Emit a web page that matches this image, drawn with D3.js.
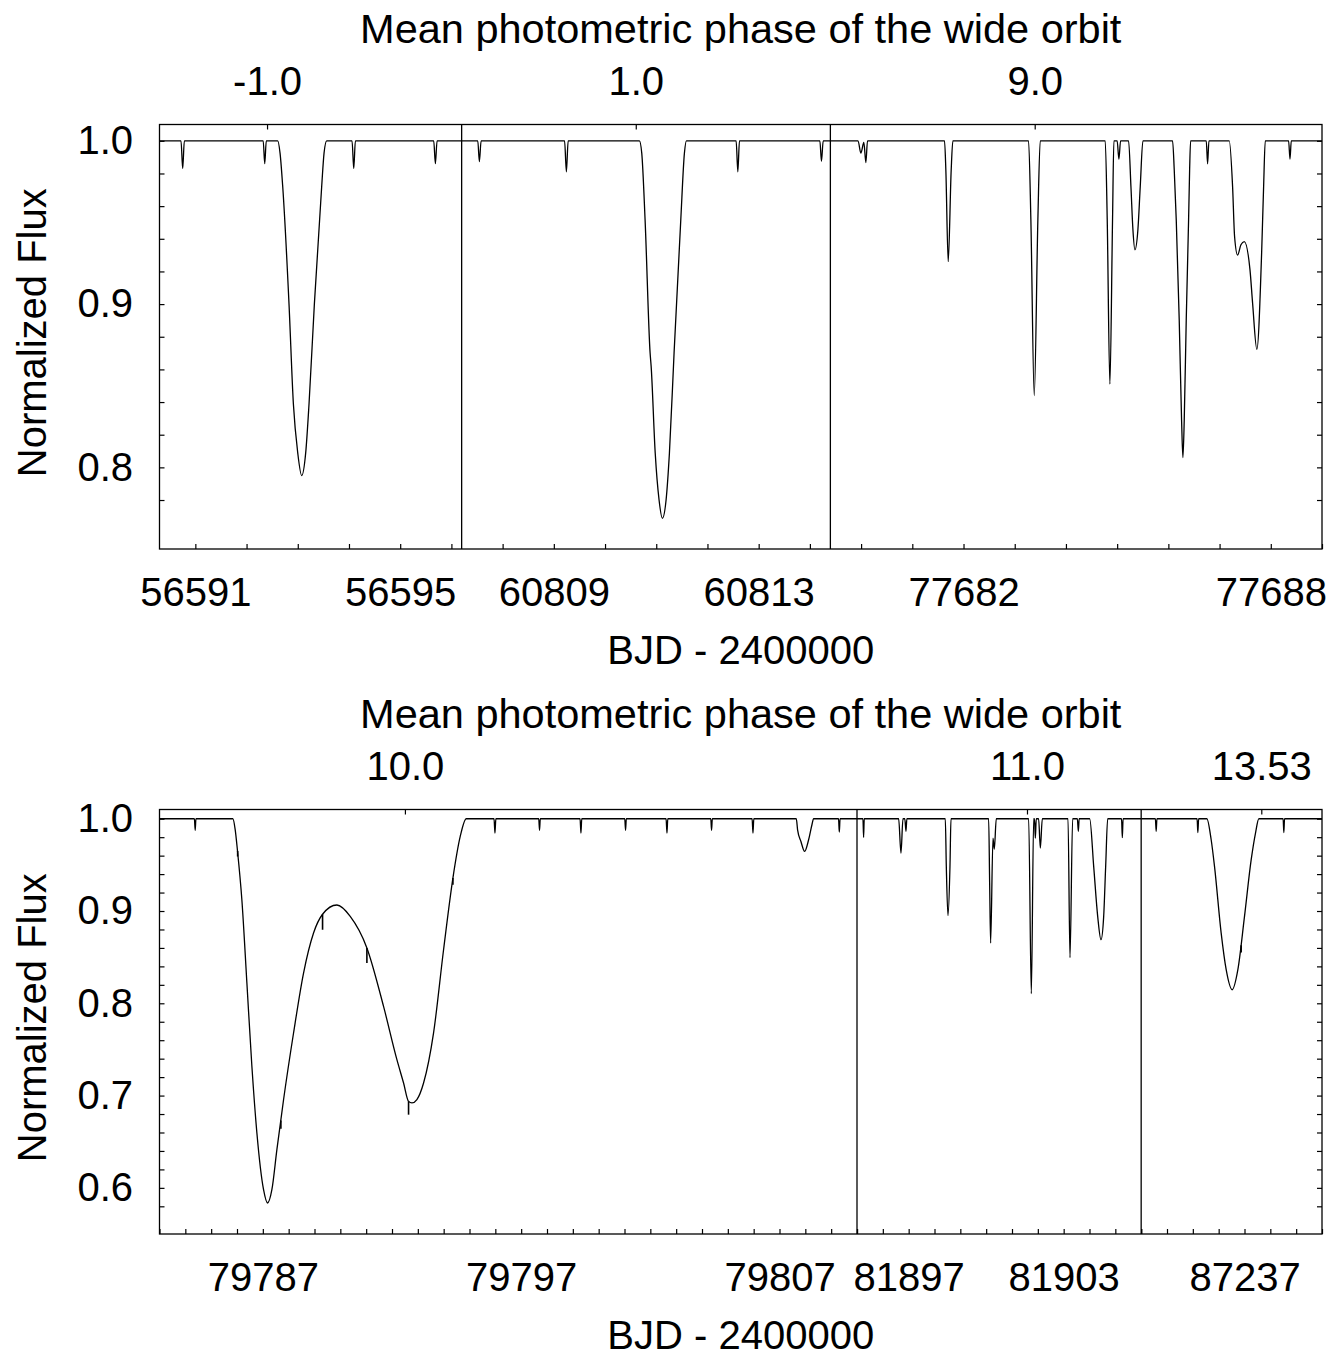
<!DOCTYPE html>
<html>
<head>
<meta charset="utf-8">
<script src="https://cdn.jsdelivr.net/npm/d3@7"></script>
<style>
  body { margin: 0; background: #fff; }
  svg text { font-family: "Liberation Sans", Arial, Helvetica, sans-serif; fill: #000; }
</style>
</head>
<body>
<svg id="chart" width="1343" height="1359"></svg>
<script>
// ---- upper panel: three time windows (BJD - 2400000) ----
var topDomains = [[56590.3, 56596.2], [60807.2, 60814.4], [77679.4, 77689.0]];
var topTickLabels = [[56591, 56595], [60809, 60813], [77682, 77688]];
var topPhaseAt = [56592.4, 60810.6, 77683.39];
var topPhaseLabels = ["-1.0", "1.0", "9.0"];
var topYLabels = [0.8, 0.9, 1.0];

var topSeg1 = [
  [56590.30, 1], [56590.72, 1], [56590.753, 0.983], [56590.785, 1],
  [56592.325, 1], [56592.355, 0.986], [56592.385, 1],
  [56592.608, 1], [56592.654, 0.9925], [56592.706, 0.972], [56592.829, 0.90], [56592.914, 0.839],
  [56592.999, 0.809], [56593.077, 0.795], [56593.155, 0.809], [56593.220, 0.839], [56593.324, 0.90],
  [56593.467, 0.972], [56593.513, 0.9925], [56593.565, 1],
  [56594.06, 1], [56594.093, 0.983], [56594.125, 1],
  [56595.655, 1], [56595.687, 0.986], [56595.72, 1],
  [56596.2, 1]
];
var topSeg2 = [
  [60807.2, 1], [60807.515, 1], [60807.546, 0.9873], [60807.58, 1],
  [60809.21, 1], [60809.245, 0.981], [60809.28, 1],
  [60810.671, 1], [60810.717, 0.9925], [60810.782, 0.9516], [60810.88, 0.870], [60810.90, 0.862],
  [60810.98, 0.8086], [60811.055, 0.78], [60811.12, 0.7688], [60811.192, 0.78], [60811.257, 0.8086],
  [60811.348, 0.870], [60811.479, 0.9516], [60811.55, 0.9925], [60811.589, 1],
  [60812.56, 1], [60812.593, 0.981], [60812.625, 1],
  [60814.195, 1], [60814.226, 0.9875], [60814.26, 1],
  [60814.4, 1]
];
var topSeg3 = [
  [77679.4, 1], [77679.94, 1], [77679.995, 0.9925], [77680.054, 0.999], [77680.093, 0.9867], [77680.125, 1],
  [77681.629, 1], [77681.655, 0.982], [77681.701, 0.926], [77681.759, 0.982], [77681.792, 1],
  [77683.27, 1], [77683.315, 0.952], [77683.381, 0.844], [77683.452, 0.952], [77683.498, 1],
  [77684.767, 1], [77684.806, 0.952], [77684.858, 0.851], [77684.910, 0.952], [77684.936, 1],
  [77685.0, 1], [77685.034, 0.9888], [77685.067, 1],
  [77685.223, 1], [77685.269, 0.972], [77685.308, 0.9455], [77685.347, 0.9332], [77685.405, 0.9455],
  [77685.451, 0.972], [77685.503, 1],
  [77686.082, 1], [77686.115, 0.982], [77686.154, 0.9516], [77686.212, 0.8903], [77686.258, 0.829],
  [77686.284, 0.806], [77686.310, 0.829], [77686.349, 0.8903], [77686.395, 0.9516], [77686.415, 0.982],
  [77686.434, 1],
  [77686.740, 1], [77686.766, 0.9859], [77686.792, 1],
  [77687.189, 1], [77687.254, 0.972], [77687.293, 0.9414], [77687.352, 0.930], [77687.417, 0.9363],
  [77687.482, 0.9383], [77687.594, 0.921], [77687.645, 0.9005], [77687.728, 0.8723], [77687.821, 0.9312],
  [77687.860, 0.972], [77687.892, 1],
  [77688.348, 1], [77688.375, 0.9888], [77688.400, 1],
  [77689.0, 1]
];

// ---- lower panel ----
var botDomains = [[79783, 79810], [81895, 81906], [87233, 87240]];
var botTickLabels = [[79787, 79797, 79807], [81897, 81903], [87237]];
var botPhaseAt = [79792.5, 81901.58, 87237.65];
var botPhaseLabels = ["10.0", "11.0", "13.53"];
var botYLabels = [0.6, 0.7, 0.8, 0.9, 1.0];

var botSeg1 = [
  [79783, 1], [79784.35, 1], [79784.382, 0.9873], [79784.41, 1],
  [79785.84, 1], [79785.931, 0.988], [79786.021, 0.9646], [79786.189, 0.912], [79786.383, 0.822],
  [79786.576, 0.7317], [79786.770, 0.6595], [79787.028, 0.598], [79787.182, 0.5836], [79787.350, 0.598],
  [79787.544, 0.6414], [79787.802, 0.6955], [79788.189, 0.7678], [79788.576, 0.8328],
  [79788.963, 0.8762], [79789.312, 0.8965], [79789.867, 0.9065], [79790.383, 0.8942], [79791.028, 0.86],
  [79791.673, 0.7966], [79792.19, 0.7389], [79792.448, 0.7136], [79792.641, 0.6937], [79792.77, 0.692],
  [79792.964, 0.6957], [79793.222, 0.7136], [79793.609, 0.768], [79793.996, 0.858], [79794.358, 0.9357],
  [79794.641, 0.9808], [79794.874, 1],
  [79795.95, 1], [79795.985, 0.9845], [79796.02, 1],
  [79797.68, 1], [79797.711, 0.9873], [79797.74, 1],
  [79799.28, 1], [79799.314, 0.9845], [79799.345, 1],
  [79801.01, 1], [79801.041, 0.9873], [79801.07, 1],
  [79802.61, 1], [79802.644, 0.9845], [79802.675, 1],
  [79804.34, 1], [79804.370, 0.9873], [79804.40, 1],
  [79805.94, 1], [79805.973, 0.9845], [79806.005, 1],
  [79807.65, 1], [79807.70, 0.988], [79807.83, 0.9754], [79807.972, 0.9646], [79808.127, 0.9772],
  [79808.256, 0.9935], [79808.321, 1],
  [79809.285, 1], [79809.315, 0.9855], [79809.345, 1],
  [79810, 1]
];
// short inner-binary eclipses on top of the wide eclipse: [time, flux on curve, flux at bottom]
var botSpikes1 = [
  [79786.025, 0.965, 0.959], [79787.699, 0.673, 0.664], [79789.312, 0.8965, 0.8797],
  [79791.028, 0.86, 0.8437], [79792.641, 0.6937, 0.6793], [79794.358, 0.9357, 0.9285]
];
var botSeg2 = [
  [81895, 1], [81895.23, 1], [81895.256, 0.9798], [81895.28, 1],
  [81896.612, 1], [81896.702, 0.9628], [81896.78, 1],
  [81896.85, 1], [81896.896, 0.9863], [81896.93, 1],
  [81898.418, 1], [81898.457, 0.9484], [81898.522, 0.8949], [81898.599, 0.9484], [81898.638, 1],
  [81900.096, 1], [81900.135, 0.930], [81900.173, 0.8653], [81900.264, 0.979], [81900.315, 0.967],
  [81900.392, 1],
  [81901.645, 1], [81901.748, 0.8104], [81901.839, 1],
  [81901.87, 1], [81901.903, 0.979], [81901.94, 1],
  [81902.03, 1], [81902.097, 0.9682], [81902.174, 1],
  [81903.168, 1], [81903.245, 0.8494], [81903.348, 1],
  [81903.53, 1], [81903.568, 0.9863], [81903.60, 1],
  [81904.007, 1], [81904.162, 0.9484], [81904.317, 0.8942], [81904.445, 0.8689], [81904.549, 0.8942],
  [81904.626, 0.9484], [81904.704, 1],
  [81905.24, 1], [81905.271, 0.9795], [81905.30, 1],
  [81906, 1]
];
var botSeg3 = [
  [87233, 1], [87233.55, 1], [87233.581, 0.9863], [87233.61, 1],
  [87235.165, 1], [87235.194, 0.985], [87235.225, 1],
  [87235.542, 1], [87235.710, 0.9772], [87235.839, 0.9484], [87236.097, 0.876], [87236.291, 0.8364],
  [87236.523, 0.8147], [87236.743, 0.8364], [87237.0, 0.8942], [87237.259, 0.9556], [87237.426, 0.9845],
  [87237.556, 1],
  [87238.495, 1], [87238.523, 0.985], [87238.55, 1],
  [87240, 1]
];
var botSpikes3 = [[87236.871, 0.863, 0.855]];

// ---- layout ----
var svg = d3.select("#chart");
svg.append("rect").attr("width", 1343).attr("height", 1359).attr("fill", "#fff");

var left = 159.5, right = 1322;
var fontSize = 40;

function drawPanel(opt) {
  var g = svg.append("g");
  var top = opt.top, bottom = opt.bottom;

  var y = d3.scaleLinear().domain(opt.yDomain).range([bottom, top]);

  // split the width by the length of each time window
  var spans = opt.domains.map(function(d) { return d[1] - d[0]; });
  var pxPerDay = (right - left) / d3.sum(spans);
  var x0 = left;

  opt.domains.forEach(function(dom, i) {
    var x1 = x0 + spans[i] * pxPerDay;
    var x = d3.scaleLinear().domain(dom).range([x0, x1]);

    var clipId = "clip-" + opt.name + i;
    g.append("clipPath").attr("id", clipId)
      .append("rect").attr("x", x0).attr("y", top).attr("width", x1 - x0).attr("height", bottom - top);

    var line = d3.line()
        .x(function(d) { return x(d[0]); })
        .y(function(d) { return y(d[1]); })
        .curve(d3.curveMonotoneX);

    var seg = g.append("g").attr("clip-path", "url(#" + clipId + ")");

    seg.append("path")
      .datum(opt.series[i])
      .attr("fill", "none")
      .attr("stroke", "#000")
      .attr("stroke-width", 1.3)
      .attr("stroke-linejoin", "round")
      .attr("d", line);

    seg.selectAll("line.spike")
      .data(opt.spikes[i])
      .enter().append("line")
        .attr("class", "spike")
        .attr("x1", function(d) { return x(d[0]); })
        .attr("x2", function(d) { return x(d[0]); })
        .attr("y1", function(d) { return y(d[1]); })
        .attr("y2", function(d) { return y(d[2]); })
        .attr("stroke", "#000")
        .attr("stroke-width", 1.6);

    // one tick per day, labels only on chosen days
    var days = d3.range(Math.ceil(dom[0]), Math.floor(dom[1]) + 1);
    var labels = opt.tickLabels[i];
    var xAxis = g.append("g")
      .attr("transform", "translate(0," + bottom + ")")
      .call(d3.axisBottom(x)
        .tickValues(days)
        .tickSize(-5)
        .tickPadding(29)
        .tickFormat(function(d) { return labels.indexOf(d) >= 0 ? d : ""; }));
    xAxis.select(".domain").remove();

    // phase of the wide orbit on top
    var pAxis = g.append("g")
      .attr("transform", "translate(0," + top + ")")
      .call(d3.axisTop(x)
        .tickValues([opt.phaseAt[i]])
        .tickSize(-5)
        .tickPadding(29.5)
        .tickFormat(function() { return opt.phaseLabels[i]; }));
    pAxis.select(".domain").remove();

    if (i > 0) {
      g.append("line")
        .attr("x1", x0).attr("x2", x0)
        .attr("y1", top).attr("y2", bottom)
        .attr("stroke", "#000").attr("stroke-width", 1.3);
    }
    x0 = x1;
  });

  // y ticks every 0.02
  var yTicks = d3.range(Math.round(opt.yDomain[0] * 50) + 1, 51).map(function(k) { return k / 50; });
  var yAxis = g.append("g")
    .attr("transform", "translate(" + left + ",0)")
    .call(d3.axisLeft(y)
      .tickValues(yTicks)
      .tickSize(-5)
      .tickPadding(26.5)
      .tickFormat(function(d) {
        var r = Math.round(d * 10) / 10;
        return (Math.abs(r - d) < 1e-6 && opt.yLabels.indexOf(r) >= 0) ? d3.format(".1f")(d) : "";
      }));
  yAxis.select(".domain").remove();

  var yAxisR = g.append("g")
    .attr("transform", "translate(" + right + ",0)")
    .call(d3.axisRight(y).tickValues(yTicks).tickSize(-5).tickFormat(""));
  yAxisR.select(".domain").remove();

  g.selectAll(".tick line").attr("stroke", "#000").attr("stroke-width", 1.2);
  g.selectAll(".tick text").attr("font-size", fontSize);
  g.selectAll("g").attr("font-family", null).attr("font-size", null);

  // frame
  g.append("rect")
    .attr("x", left).attr("y", top)
    .attr("width", right - left).attr("height", bottom - top)
    .attr("fill", "none").attr("stroke", "#000").attr("stroke-width", 1.3);

  // titles
  var cx = (left + right) / 2;
  g.append("text").attr("x", cx).attr("y", top - 81.5)
    .attr("text-anchor", "middle").attr("font-size", 41.5)
    .text("Mean photometric phase of the wide orbit");
  g.append("text").attr("x", cx).attr("y", bottom + 115)
    .attr("text-anchor", "middle").attr("font-size", 40)
    .text("BJD - 2400000");
  g.append("text")
    .attr("transform", "translate(46," + ((top + bottom) / 2 - 4) + ") rotate(-90)")
    .attr("text-anchor", "middle").attr("font-size", fontSize)
    .text("Normalized Flux");
}

drawPanel({
  name: "top", top: 124.5, bottom: 549, yDomain: [0.75, 1.01],
  domains: topDomains, tickLabels: topTickLabels,
  phaseAt: topPhaseAt, phaseLabels: topPhaseLabels, yLabels: topYLabels,
  series: [topSeg1, topSeg2, topSeg3], spikes: [[], [], []]
});

drawPanel({
  name: "bot", top: 809.5, bottom: 1234, yDomain: [0.55, 1.01],
  domains: botDomains, tickLabels: botTickLabels,
  phaseAt: botPhaseAt, phaseLabels: botPhaseLabels, yLabels: botYLabels,
  series: [botSeg1, botSeg2, botSeg3], spikes: [botSpikes1, [], botSpikes3]
});
</script>
</body>
</html>
